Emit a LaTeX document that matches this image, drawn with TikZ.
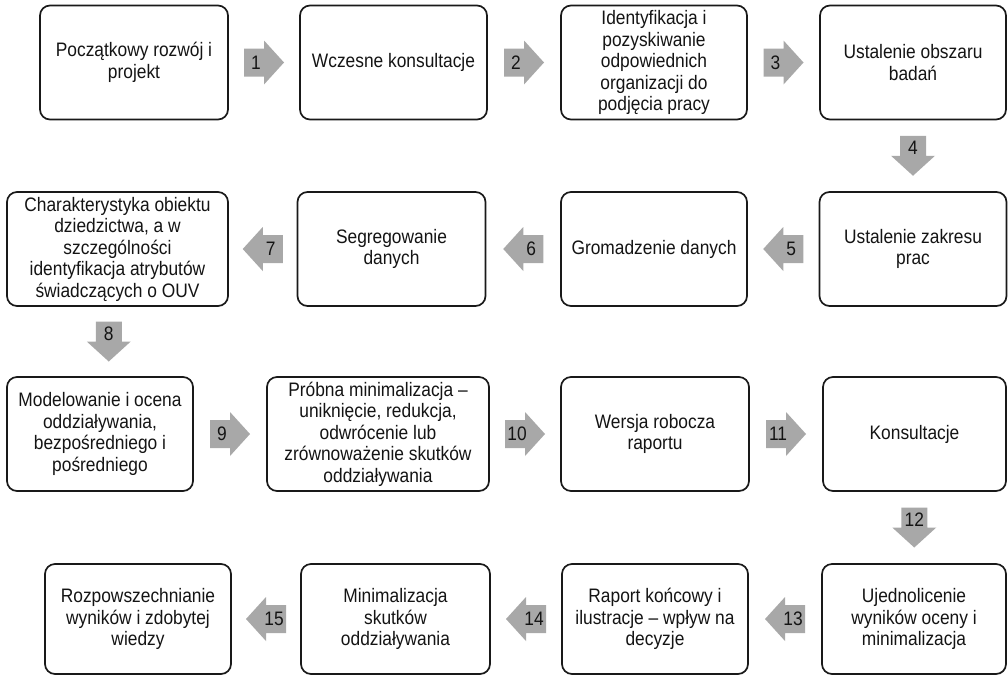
\documentclass[tikz,border=0pt]{standalone}
\usepackage{fontspec}
\setmainfont{Liberation Sans}[FakeStretch=0.89]
\usetikzlibrary{calc}
\definecolor{arrowgray}{RGB}{168,168,168}
\definecolor{txt}{RGB}{20,20,20}
\tikzset{
  box/.style={draw=black!90, line width=1.7pt, rounded corners=10pt, inner sep=0pt,
    align=center, text=txt, font=\fontsize{19.5}{21.5}\selectfont, minimum height=114pt},
  num/.style={inner sep=0pt, text=txt, font=\fontsize{19.5}{19.5}\selectfont},
  arrowfill/.style={fill=arrowgray}
}
\newcommand\harr[4]{%
  \coordinate (c#4) at ($(#1)!0.5!(#2)$);
  \fill[arrowfill] ($(c#4)+({-20*(#3)},-14)$) -- ++({20*(#3)},0) -- ++(0,-8)
     -- ++({20*(#3)},22) -- ++({-20*(#3)},22) -- ++(0,-8) -- ++({-20*(#3)},0) -- cycle;
  \node[num] (n#4) at ($(c#4)+({-8*(#3)},0)$) {#4};
}
\newcommand\varr[3]{%
  \coordinate (c#3) at ($(#1)!0.5!(#2)$);
  \fill[arrowfill] ($(c#3)+(-13,-20)$) -- ++(0,20) -- ++(-9,0) -- ++(22,20)
     -- ++(22,-20) -- ++(-9,0) -- ++(0,-20) -- cycle;
  \node[num] (n#3) at ($(c#3)+(0,-8)$) {#3};
}
\begin{document}
\begin{tikzpicture}[x=1pt,y=-1pt]
\fill[white] (0,0) rectangle (1008,675);
\useasboundingbox (0,0) rectangle (1008,675);
% row 1
\node[box, minimum width=188pt] (b1) at (134,62.5) {Początkowy rozwój i\\projekt};
\node[box, minimum width=187pt] (b2) at (393.5,62.5) {Wczesne konsultacje};
\node[box, minimum width=186pt] (b3) at (654,62.5) {Identyfikacja i\\pozyskiwanie\\odpowiednich\\organizacji do\\podjęcia pracy};
\node[box, minimum width=186pt] (b4) at (913,62.5) {Ustalenie obszaru\\badań};
% row 2
\node[box, minimum width=187pt] (b5) at (913,249) {Ustalenie zakresu\\prac};
\node[box, minimum width=186pt] (b6) at (654,249) {Gromadzenie danych};
\node[box, minimum width=188pt] (b7) at (391.5,249) {Segregowanie\\danych};
\node[box, minimum width=221pt] (b8) at (117.5,249) {Charakterystyka obiektu\\dziedzictwa, a w\\szczególności\\identyfikacja atrybutów\\świadczących o OUV};
% row 3
\node[box, minimum width=186pt] (b9) at (100,434) {Modelowanie i ocena\\oddziaływania,\\bezpośredniego i\\pośredniego};
\node[box, minimum width=222pt] (b10) at (378,434) {Próbna minimalizacja –\\uniknięcie, redukcja,\\odwrócenie lub\\zrównoważenie skutków\\oddziaływania};
\node[box, minimum width=188pt] (b11) at (655,434) {Wersja robocza\\raportu};
\node[box, minimum width=183pt] (b12) at (914.5,434) {Konsultacje};
% row 4
\node[box, minimum width=184pt, minimum height=110pt] (b13) at (914,619) {Ujednolicenie\\wyników oceny i\\minimalizacja};
\node[box, minimum width=186pt, minimum height=110pt] (b14) at (655,619) {Raport końcowy i\\ilustracje – wpływ na\\decyzje};
\node[box, minimum width=189pt, minimum height=110pt] (b15) at (395.5,619) {Minimalizacja\\skutków\\oddziaływania};
\node[box, minimum width=186pt, minimum height=110pt] (b16) at (138,619) {Rozpowszechnianie\\wyników i zdobytej\\wiedzy};
% arrows
\harr{b1.east}{b2.west}{1}{1}
\harr{b2.east}{b3.west}{1}{2}
\harr{b3.east}{b4.west}{1}{3}
\varr{b4.south}{b5.north}{4}
\harr{b5.west}{b6.east}{-1}{5}
\harr{b6.west}{b7.east}{-1}{6}
\harr{b7.west}{b8.east}{-1}{7}
\varr{b8.south}{b9.north}{8}
\harr{b9.east}{b10.west}{1}{9}
\harr{b10.east}{b11.west}{1}{10}
\harr{b11.east}{b12.west}{1}{11}
\varr{b12.south}{b13.north}{12}
\harr{b13.west}{b14.east}{-1}{13}
\harr{b14.west}{b15.east}{-1}{14}
\harr{b15.west}{b16.east}{-1}{15}
\end{tikzpicture}
\end{document}
